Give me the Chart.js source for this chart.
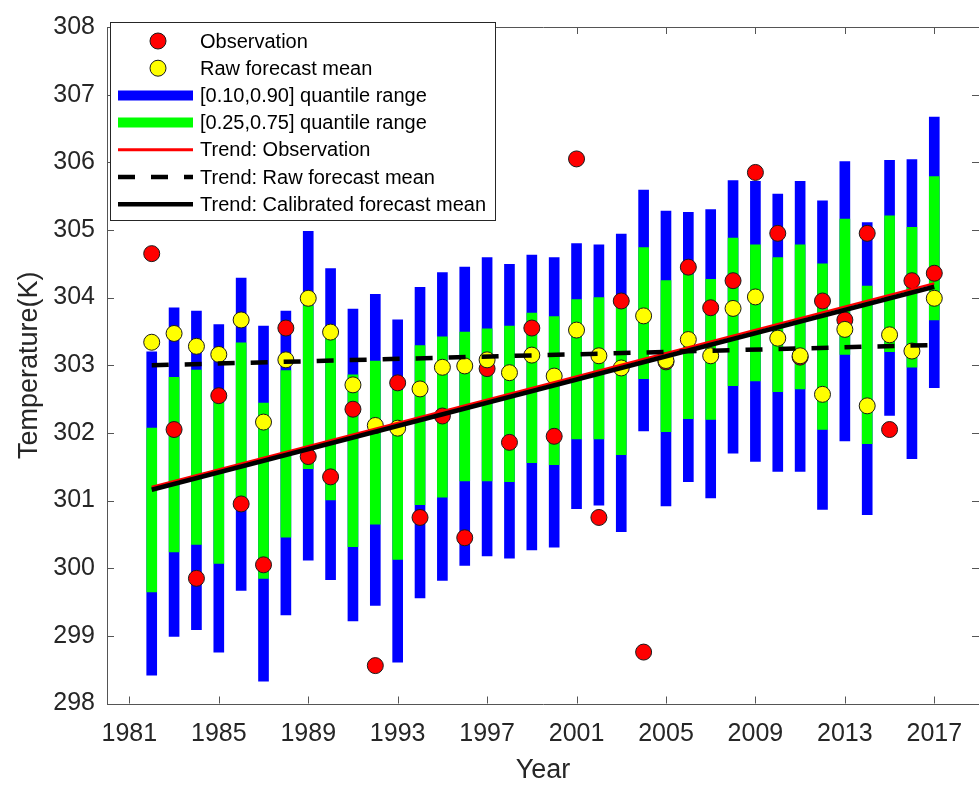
<!DOCTYPE html>
<html>
<head>
<meta charset="utf-8">
<title>Temperature forecast</title>
<script src="https://cdn.jsdelivr.net/npm/chart.js@4/dist/chart.umd.min.js"></script>
<style>
    html, body { margin: 0; padding: 0; background: #ffffff; overflow: hidden; }
    #wrap { width: 988px; height: 787px; }
</style>
</head>
<body>
<div id="wrap"><canvas id="tempChart" width="988" height="787"></canvas></div>
<script>
// ======================================================
// DATA
// ======================================================

const years = [1982, 1983, 1984, 1985, 1986, 1987, 1988, 1989, 1990, 1991, 1992, 1993,
               1994, 1995, 1996, 1997, 1998, 1999, 2000, 2001, 2002, 2003, 2004, 2005,
               2006, 2007, 2008, 2009, 2010, 2011, 2012, 2013, 2014, 2015, 2016, 2017];

// [0.10,0.90] quantile range
const q10 = [298.42, 298.99, 299.09, 298.76, 299.67, 298.33, 299.31, 300.12, 299.83, 299.22, 299.45, 298.61,
             299.56, 299.82, 300.04, 300.18, 300.15, 300.27, 300.31, 300.88, 300.93, 300.54, 302.03, 300.92,
             301.28, 301.04, 301.70, 301.58, 301.43, 301.43, 300.87, 301.88, 300.79, 302.26, 301.62, 302.67];
const q90 = [303.20, 303.85, 303.80, 303.60, 304.29, 303.58, 303.80, 304.98, 304.43, 303.83, 304.05, 303.67,
             304.15, 304.37, 304.45, 304.59, 304.49, 304.63, 304.59, 304.80, 304.78, 304.94, 305.59, 305.28,
             305.26, 305.30, 305.73, 305.72, 305.53, 305.72, 305.43, 306.01, 305.11, 306.03, 306.04, 306.67];

// [0.25,0.75] quantile range
const q25 = [299.65, 300.24, 300.35, 300.07, 300.95, 299.85, 300.46, 301.47, 301.01, 300.32, 300.65, 300.13,
             300.94, 301.05, 301.29, 301.29, 301.28, 301.56, 301.53, 301.91, 301.91, 301.68, 302.80, 302.02,
             302.21, 302.20, 302.70, 302.77, 302.61, 302.65, 302.05, 303.16, 301.84, 303.20, 302.97, 303.67];
const q75 = [302.07, 302.82, 302.93, 302.45, 303.33, 302.44, 302.92, 303.88, 303.39, 302.86, 303.06, 302.63,
             303.29, 303.42, 303.49, 303.54, 303.58, 303.77, 303.72, 303.97, 304.00, 303.88, 304.74, 304.25,
             304.34, 304.27, 304.88, 304.78, 304.59, 304.78, 304.50, 305.16, 304.17, 305.21, 305.04, 305.79];

const observation = [304.65, 302.05, 299.85, 302.55, 300.95, 300.05, 303.55, 301.65, 301.35, 302.35, 298.56, 302.74,
                     300.75, 302.25, 300.45, 302.95, 301.86, 303.55, 301.95, 306.05, 300.75, 303.95, 298.76, 303.05,
                     304.45, 303.85, 304.25, 305.85, 304.95, 303.12, 303.95, 303.67, 304.95, 302.05, 304.25, 304.36];

const rawMean = [303.34, 303.47, 303.28, 303.16, 303.67, 302.16, 303.08, 303.99, 303.49, 302.71, 302.11, 302.07,
                 302.65, 302.97, 302.99, 303.08, 302.89, 303.15, 302.84, 303.52, 303.14, 302.96, 303.73, 303.07,
                 303.38, 303.14, 303.84, 304.01, 303.40, 303.14, 302.57, 303.53, 302.40, 303.45, 303.21, 303.99];

// linear trends, end points at first and last year
const trendYears = [1982, 2017];
const trendObs = [301.20, 304.21];
const trendRaw = [303.00, 303.30];
const trendCal = [301.16, 304.16];

// axis ticks
const xTicks = [1981, 1985, 1989, 1993, 1997, 2001, 2005, 2009, 2013, 2017];
const yTicks = [298, 299, 300, 301, 302, 303, 304, 305, 306, 307, 308];

// ======================================================
// HELPERS
// ======================================================

const axisColor = "#262626";
const fontFamily = "Arial, 'Liberation Sans', Helvetica, sans-serif";

function toPoints(xs, ys) {
    return xs.map(function (x, i) { return { x: x, y: ys[i] }; });
}

function toRanges(lo, hi) {
    return years.map(function (yr, i) { return { x: yr, y: [lo[i], hi[i]] }; });
}

// ======================================================
// FRAME + INWARD TICKS (MATLAB style box)
// ======================================================

const framePlugin = {
    id: "frame",
    beforeDatasetsDraw(chart) {
        const ctx = chart.ctx;
        const a = chart.chartArea;
        const xs = chart.scales.x;
        const ys = chart.scales.y;
        const len = 7;
        ctx.save();
        ctx.strokeStyle = "#555555";
        ctx.lineWidth = 1;
        ctx.beginPath();
        ctx.rect(Math.round(a.left) + 0.5, Math.round(a.top) + 0.5,
                 Math.round(a.right - a.left), Math.round(a.bottom - a.top));
        xTicks.forEach(function (v) {
            const px = Math.round(xs.getPixelForValue(v)) + 0.5;
            ctx.moveTo(px, a.bottom); ctx.lineTo(px, a.bottom - len);
            ctx.moveTo(px, a.top); ctx.lineTo(px, a.top + len);
        });
        yTicks.forEach(function (v) {
            const py = Math.round(ys.getPixelForValue(v)) + 0.5;
            ctx.moveTo(a.left, py); ctx.lineTo(a.left + len, py);
            ctx.moveTo(a.right, py); ctx.lineTo(a.right - len, py);
        });
        ctx.stroke();
        ctx.restore();
    }
};

// ======================================================
// LEGEND BOX (upper left, inside the axes)
// ======================================================

const legendOrder = ["obs", "raw", "q1090", "q2575", "tObs", "tRaw", "tCal"];

const legendPlugin = {
    id: "boxLegend",
    afterDraw(chart) {
        const ctx = chart.ctx;
        const box = { x: 110.5, y: 22.5, w: 385, h: 198 };
        const rowTop = 41;
        const rowGap = 27.2;
        const lineX0 = 118, lineX1 = 193, markX = 158, textX = 200;

        ctx.save();
        ctx.fillStyle = "#ffffff";
        ctx.fillRect(box.x, box.y, box.w, box.h);
        ctx.strokeStyle = "#262626";
        ctx.lineWidth = 1;
        ctx.strokeRect(box.x, box.y, box.w, box.h);

        ctx.font = "20px " + fontFamily;
        ctx.textBaseline = "middle";
        ctx.textAlign = "left";

        legendOrder.forEach(function (key, i) {
            const ds = chart.data.datasets.find(function (d) { return d.key === key; });
            const y = rowTop + i * rowGap;
            if (ds.legendKind === "marker") {
                ctx.beginPath();
                ctx.arc(markX, y, ds.pointRadius, 0, Math.PI * 2);
                ctx.fillStyle = ds.pointBackgroundColor;
                ctx.fill();
                ctx.lineWidth = ds.pointBorderWidth;
                ctx.strokeStyle = ds.pointBorderColor;
                ctx.stroke();
            } else {
                ctx.beginPath();
                ctx.setLineDash(ds.borderDash || []);
                ctx.lineWidth = ds.legendWidth;
                ctx.strokeStyle = ds.legendColor;
                ctx.moveTo(lineX0, y);
                ctx.lineTo(lineX1, y);
                ctx.stroke();
                ctx.setLineDash([]);
            }
            ctx.fillStyle = "#000000";
            ctx.fillText(ds.label, textX, y + 1);
        });
        ctx.restore();
    }
};

// ======================================================
// CHART
// ======================================================

const canvas = document.getElementById("tempChart");

if (canvas) {

    const ctx = canvas.getContext("2d");

    new Chart(ctx, {

        type: "bar",

        data: {

            datasets: [

                {
                    key: "q1090",
                    label: "[0.10,0.90] quantile range",
                    type: "bar",
                    data: toRanges(q10, q90),
                    backgroundColor: "#0000ff",
                    borderWidth: 0,
                    barThickness: 10,
                    grouped: false,
                    order: 7,
                    legendKind: "line",
                    legendColor: "#0000ff",
                    legendWidth: 10
                },

                {
                    key: "q2575",
                    label: "[0.25,0.75] quantile range",
                    type: "bar",
                    data: toRanges(q25, q75),
                    backgroundColor: "#00ff00",
                    borderWidth: 0,
                    barThickness: 10,
                    grouped: false,
                    order: 6,
                    legendKind: "line",
                    legendColor: "#00ff00",
                    legendWidth: 10
                },

                {
                    key: "obs",
                    label: "Observation",
                    type: "line",
                    data: toPoints(years, observation),
                    showLine: false,
                    pointRadius: 8,
                    pointHoverRadius: 8,
                    pointBackgroundColor: "#ff0000",
                    pointBorderColor: "#1a1a1a",
                    pointBorderWidth: 1,
                    order: 5,
                    legendKind: "marker"
                },

                {
                    key: "raw",
                    label: "Raw forecast mean",
                    type: "line",
                    data: toPoints(years, rawMean),
                    showLine: false,
                    pointRadius: 8,
                    pointHoverRadius: 8,
                    pointBackgroundColor: "#ffff00",
                    pointBorderColor: "#1a1a1a",
                    pointBorderWidth: 1,
                    order: 4,
                    legendKind: "marker"
                },

                {
                    key: "tObs",
                    label: "Trend: Observation",
                    type: "line",
                    data: toPoints(trendYears, trendObs),
                    borderColor: "#ff0000",
                    borderWidth: 2.5,
                    pointRadius: 0,
                    order: 3,
                    legendKind: "line",
                    legendColor: "#ff0000",
                    legendWidth: 3
                },

                {
                    key: "tRaw",
                    label: "Trend: Raw forecast mean",
                    type: "line",
                    data: toPoints(trendYears, trendRaw),
                    borderColor: "#000000",
                    borderWidth: 4.5,
                    borderDash: [17, 16],
                    borderCapStyle: "butt",
                    pointRadius: 0,
                    order: 2,
                    legendKind: "line",
                    legendColor: "#000000",
                    legendWidth: 4.5
                },

                {
                    key: "tCal",
                    label: "Trend: Calibrated forecast mean",
                    type: "line",
                    data: toPoints(trendYears, trendCal),
                    borderColor: "#000000",
                    borderWidth: 4.5,
                    pointRadius: 0,
                    order: 1,
                    legendKind: "line",
                    legendColor: "#000000",
                    legendWidth: 4.5
                }

            ]

        },

        options: {

            responsive: false,

            animation: false,

            layout: {
                padding: { top: 20, right: 2, left: 0, bottom: 0 }
            },

            plugins: {
                legend: { display: false },
                tooltip: { enabled: false }
            },

            scales: {

                x: {
                    type: "linear",
                    min: 1980,
                    max: 2019,
                    offset: false,
                    grid: { display: false, drawTicks: false },
                    border: { display: false },
                    afterBuildTicks: function (scale) {
                        scale.ticks = xTicks.map(function (v) { return { value: v }; });
                    },
                    afterFit: function (scale) {
                        scale.height = 83.5;
                    },
                    ticks: {
                        color: axisColor,
                        padding: 16,
                        maxRotation: 0,
                        autoSkip: false,
                        font: { size: 25, family: fontFamily },
                        callback: function (v) { return String(v); }
                    },
                    title: {
                        display: true,
                        text: "Year",
                        color: axisColor,
                        padding: { top: 0, bottom: 0 },
                        font: { size: 27, family: fontFamily }
                    }
                },

                y: {
                    min: 298,
                    max: 308,
                    grid: { display: false, drawTicks: false },
                    border: { display: false },
                    afterBuildTicks: function (scale) {
                        scale.ticks = yTicks.map(function (v) { return { value: v }; });
                    },
                    afterFit: function (scale) {
                        scale.width = 107;
                    },
                    ticks: {
                        color: axisColor,
                        padding: 12,
                        font: { size: 25, family: fontFamily }
                    },
                    title: {
                        display: true,
                        text: "Temperature(K)",
                        color: axisColor,
                        padding: { top: 13, bottom: 0 },
                        font: { size: 27, family: fontFamily }
                    }
                }

            }

        },

        plugins: [framePlugin, legendPlugin]

    });

}
</script>
</body>
</html>
